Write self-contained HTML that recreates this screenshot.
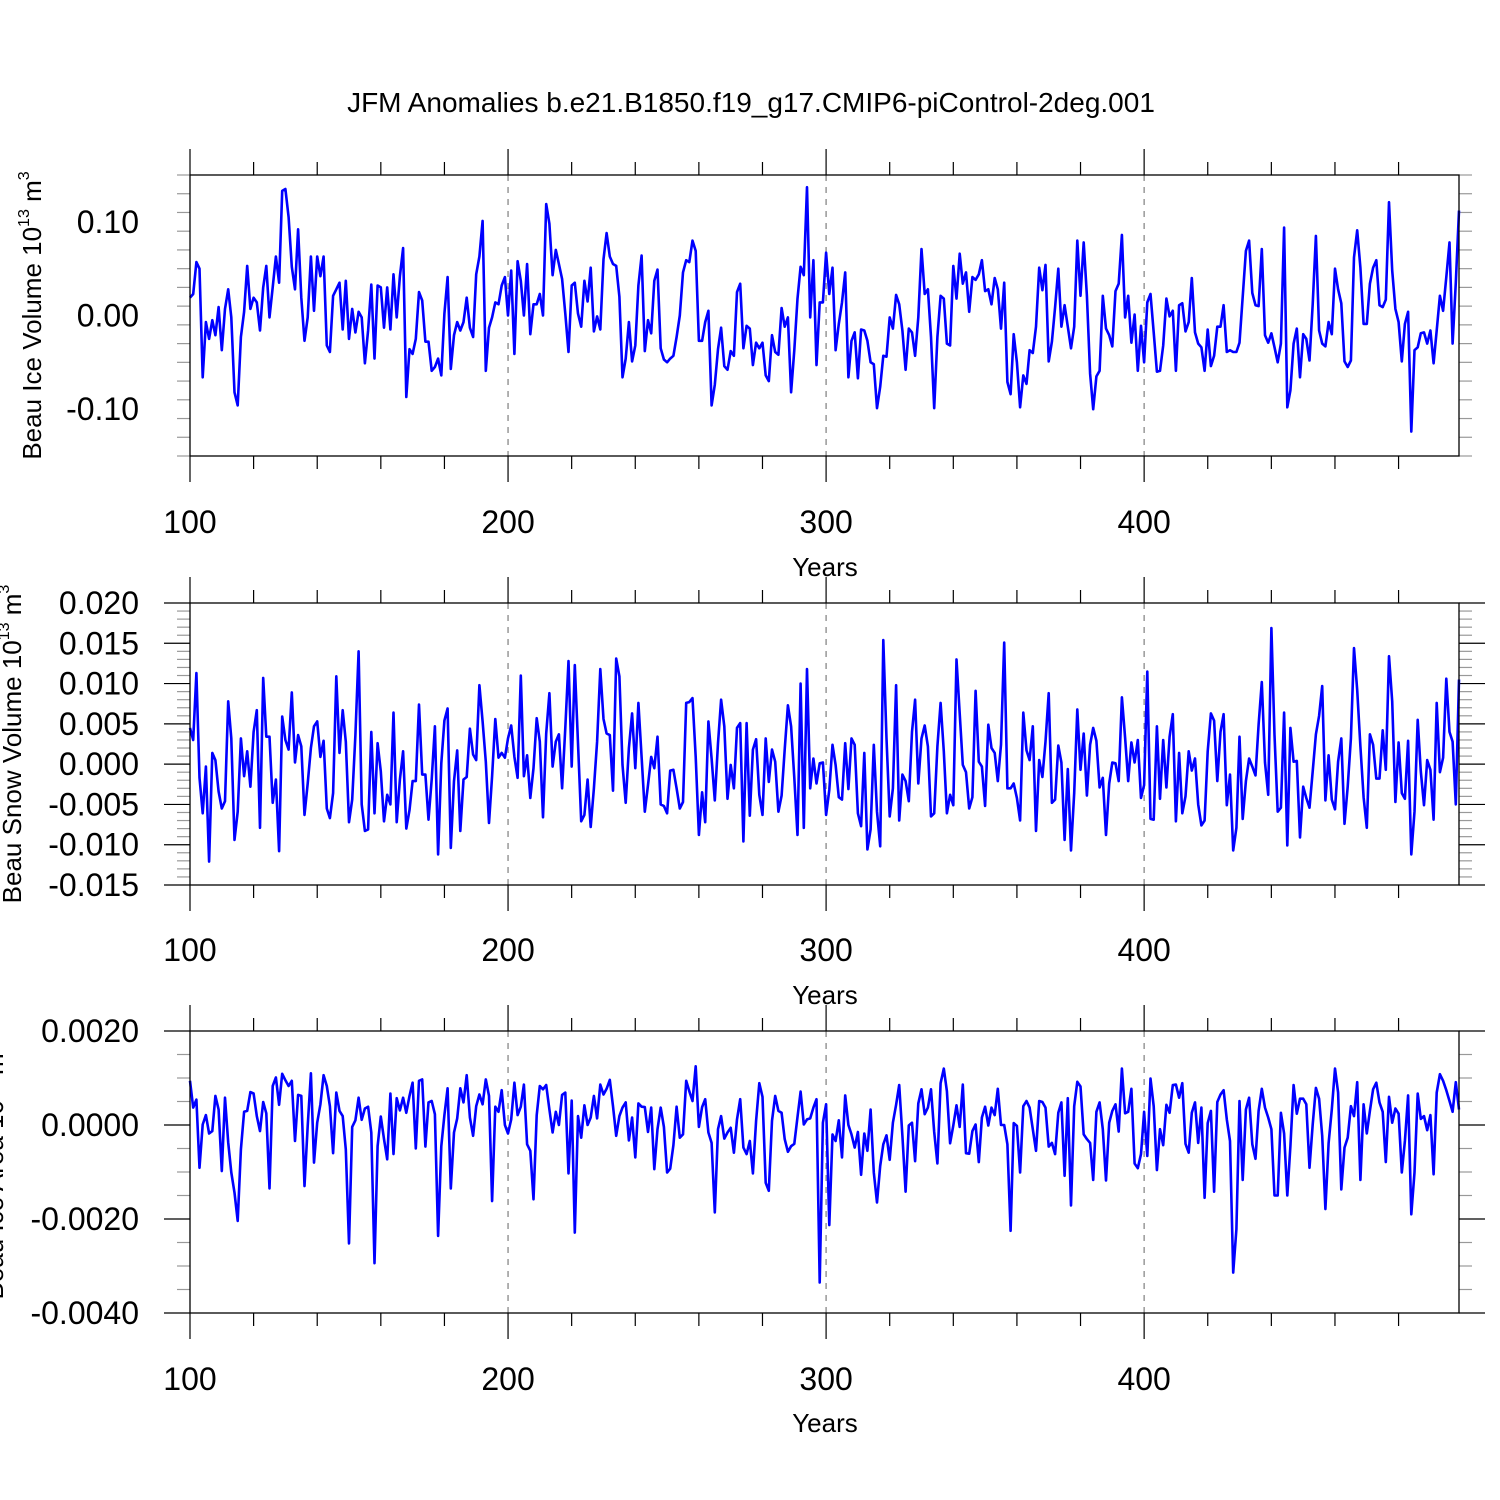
<!DOCTYPE html>
<html><head><meta charset="utf-8"><style>
html,body{margin:0;padding:0;background:#fff}
svg{display:block}
text{font-family:"Liberation Sans",Arial,sans-serif;fill:#000}
</style></head><body>
<svg id="chart" width="1500" height="1500" viewBox="0 0 1500 1500" xmlns="http://www.w3.org/2000/svg">
<text x="751" y="112" font-size="28" text-anchor="middle">JFM Anomalies b.e21.B1850.f19_g17.CMIP6-piControl-2deg.001</text>
</svg>
<script>
// x-axis data
const startYear = 100;
const xTickLabels = ["100","200","300","400"];
// Panel 1: Beau Ice Volume (units 0.001 x 10^13 m^3)
const iceVolume = [
19,23,57,50,-66,-7,-25,-5,-21,9,
-37,7,28,-2,-82,-96,-23,4,53,7,
19,14,-16,30,53,-2,30,63,35,133,
135,105,52,28,92,19,-27,-2,63,5,
63,42,63,-32,-39,21,28,35,-15,37,
-25,7,-18,4,-2,-51,-16,33,-46,32,
30,-13,30,-15,44,-2,42,72,-87,-36,
-41,-25,25,16,-28,-28,-59,-55,-46,-64,
2,41,-57,-21,-7,-16,-7,19,-13,-23,
44,63,101,-59,-13,-2,14,12,32,41,
0,48,-41,58,37,0,55,-20,12,12,
23,0,119,98,43,70,55,39,2,-39,
32,35,2,-12,37,15,51,-17,-1,-15,
60,88,63,55,53,20,-66,-46,-7,-49,
-32,32,64,-38,-5,-19,37,49,-35,-47,
-50,-46,-43,-23,0,46,59,57,80,69,
-27,-27,-7,5,-96,-74,-36,-13,-54,-58,
-38,-43,25,34,-35,-11,-14,-53,-29,-35,
-29,-64,-70,-21,-39,-42,8,-12,-2,-82,
-37,18,52,43,137,-2,59,-53,14,14,
67,23,51,-37,-9,14,46,-66,-27,-18,
-67,-15,-16,-27,-50,-52,-99,-76,-43,-44,
-2,-14,22,12,-16,-58,-14,-18,-43,-2,
71,23,28,-23,-99,-23,21,18,-30,-32,
53,18,66,34,46,4,41,38,44,59,
26,28,12,40,28,-14,35,-71,-84,-20,
-50,-98,-64,-73,-37,-40,-12,51,27,54,
-49,-28,9,50,-12,11,-12,-35,-12,80,
21,78,21,-62,-100,-65,-59,21,-14,-21,
-33,26,34,86,-2,21,-29,1,-59,-11,
-50,14,23,-18,-60,-59,-32,18,-1,5,
-59,11,13,-17,-7,40,-18,-30,-34,-59,
-15,-54,-43,-12,-12,11,-39,-37,-39,-39,
-29,20,69,80,24,11,10,71,-21,-29,
-19,-34,-50,-30,94,-98,-80,-30,-14,-66,
-20,-25,-48,12,85,-16,-30,-33,-7,-20,
50,28,13,-49,-55,-48,62,91,51,-9,
-9,34,51,59,11,9,17,121,48,7,
-7,-49,-9,4,-124,-37,-34,-19,-18,-30,
-16,-51,-16,21,5,41,78,-30,35,112];
const iceVolumeUnit = 0.001;
const iceVolumeTicks = ["-0.10","0.00","0.10"];
// Panel 2: Beau Snow Volume (units 0.0001)
const snowVolume = [
45,30,113,-17,-61,-3,-121,14,5,-34,
-55,-46,78,32,-94,-59,32,-15,16,-28,
40,67,-79,107,34,34,-48,-19,-108,59,
30,18,89,2,36,22,-63,-24,20,47,
53,9,29,-55,-67,-36,109,14,67,28,
-72,-44,36,140,-50,-83,-81,40,-61,26,
-9,-71,-38,-50,64,-72,-19,16,-80,-57,
-21,-21,74,-13,-13,-69,-19,47,-112,1,
54,69,-104,-21,17,-83,-19,-16,44,12,
5,98,53,3,-73,-15,56,8,14,8,
32,48,9,-17,110,-15,11,-42,-5,57,
28,-66,38,88,-3,28,37,-30,45,128,
-3,123,26,-71,-63,-19,-78,-30,28,118,
56,38,36,-33,131,109,-1,-48,20,63,
-5,76,9,-59,-26,9,-5,34,-50,-52,
-61,-8,-7,-30,-55,-47,76,77,82,9,
-88,-35,-72,53,7,-45,26,80,47,-43,
-1,-30,45,51,-96,51,-64,18,31,-38,
-63,32,-22,18,3,-59,-39,18,73,47,
-17,-88,100,-79,118,-30,7,-24,1,2,
-63,-32,24,-1,-41,-44,26,-31,32,24,
-61,-77,14,-106,-81,24,-59,-102,154,32,
-65,-30,98,-70,-13,-21,-46,40,80,-24,
32,48,22,-65,-61,22,76,16,-61,-38,
-51,130,63,-1,-10,-55,-41,91,3,-3,
-52,49,20,14,-21,24,151,-30,-30,-24,
-42,-70,64,17,5,47,-83,5,-16,28,
88,-48,-44,23,2,-94,-6,-107,-36,68,
-7,38,-39,24,45,29,-29,-17,-88,-24,
2,1,-21,83,33,-21,27,2,30,-42,
-26,115,-68,-69,47,-43,30,-29,34,62,
-71,14,-61,-40,16,-8,7,-50,-76,-70,
16,63,54,-21,40,62,-51,-13,-107,-79,
34,-68,-21,7,-3,-14,49,102,2,-38,
169,36,-59,-54,64,-101,45,3,4,-91,
-28,-42,-54,-9,37,60,97,-45,11,-44,
-56,3,32,-74,-28,32,144,92,22,-41,
-79,37,24,-18,-18,42,-7,134,78,-47,
27,-36,-43,29,-112,-59,55,-9,-51,5,
-7,-69,76,-10,8,106,40,28,-50,105];
const snowVolumeUnit = 0.0001;
const snowVolumeTicks = ["-0.015","-0.010","-0.005","0.000","0.005","0.010","0.015","0.020"];
// Panel 3: Beau Ice Area (units 0.00001)
const iceArea = [
94,37,54,-91,1,21,-18,-13,62,33,
-98,58,-37,-101,-144,-204,-52,28,30,70,
67,19,-13,49,25,-135,83,101,43,109,
95,83,94,-34,64,62,-130,-2,110,-80,
5,44,106,83,40,-60,69,30,19,-52,
-252,-4,10,58,11,35,39,-16,-294,-45,
18,-30,-73,67,-62,57,31,58,26,62,
90,-50,94,97,-46,48,51,23,-236,-45,
21,78,-135,-16,14,78,48,106,16,-23,
40,65,44,97,62,-162,39,28,74,0,
-18,12,90,21,39,86,-41,-55,-158,21,
83,76,85,33,-16,28,0,64,69,-103,
52,-229,19,-27,42,0,16,62,14,86,
65,77,96,40,-23,19,37,48,-33,16,
-69,46,39,38,-15,37,-94,-9,37,-4,
-101,-93,-43,39,-27,-20,94,72,51,125,
-4,38,55,-16,-38,-186,-9,19,-29,-16,
-6,-59,12,55,-48,-62,-34,-103,9,89,
60,-123,-140,9,62,30,26,-30,-57,-45,
-40,17,71,1,12,14,37,55,-335,5,
44,-213,-20,-34,10,-69,63,0,-20,-48,
-15,-106,-18,-55,33,-101,-165,-87,-41,-22,
-74,5,43,85,-23,-142,-1,5,-77,46,
76,23,37,76,-15,-82,89,120,72,-39,
-1,42,-4,86,-60,-61,-13,1,-79,16,
39,-1,37,21,77,0,0,-41,-225,4,
-2,-101,40,51,37,-9,-55,51,49,37,
-46,-38,-62,26,48,-108,57,-171,40,92,
82,-20,-30,-38,-117,28,48,-9,-118,5,
30,44,-14,120,25,28,77,-82,-92,-62,
28,-66,99,40,-96,-9,-43,43,26,85,
86,58,89,-40,-59,26,48,-38,37,-155,
4,30,-142,49,65,74,12,-34,-314,-222,
51,-117,33,58,-41,-72,30,77,37,16,
-9,-150,-150,26,-18,-150,-45,85,24,56,
56,44,-91,1,79,56,-23,-179,-39,33,
120,69,-137,-48,-27,40,19,91,-117,44,
-18,30,76,90,48,28,-79,60,5,35,
24,-101,-34,63,-190,-101,67,13,19,-11,
21,-105,69,108,94,74,51,28,91,33];
const iceAreaUnit = 0.00001;
const iceAreaTicks = ["-0.0040","-0.0020","0.0000","0.0020"];

const svg = document.getElementById('chart');
const NS = 'http://www.w3.org/2000/svg';
const X0 = 190, X1 = 1459, YEAR_END = 499;
function xScale(yr){ return X0 + (yr - startYear) * (X1 - X0) / (YEAR_END - startYear); }
function mk(tag, attrs){ const e = document.createElementNS(NS, tag); for (const k in attrs) e.setAttribute(k, attrs[k]); return e; }

const panels = [
  {key:'ice-volume', data:iceVolume, unit:iceVolumeUnit, ticks:iceVolumeTicks, top:175, bot:456, ymin:-0.15, ymax:0.15, major:0.1, minor:0.02, title:'Beau Ice Volume 10', sup:'13', tail:' m', sup2:'3', tx:32, lblY:522, yrsY:567},
  {key:'snow-volume', data:snowVolume, unit:snowVolumeUnit, ticks:snowVolumeTicks, top:603, bot:885, ymin:-0.015, ymax:0.020, major:0.005, minor:0.001, title:'Beau Snow Volume 10', sup:'13', tail:' m', sup2:'3', tx:12, lblY:950, yrsY:995},
  {key:'ice-area', data:iceArea, unit:iceAreaUnit, ticks:iceAreaTicks, top:1031, bot:1313, ymin:-0.004, ymax:0.002, major:0.002, minor:0.0005, title:'Beau Ice Area 10', sup:'13', tail:' m', sup2:'2', tx:-6, lblY:1379, yrsY:1423}
];

panels.forEach(p => {
  const g = mk('g', {});
  
  
  svg.appendChild(g);
  const yScale = v => p.bot - (v - p.ymin) / (p.ymax - p.ymin) * (p.bot - p.top);
  // grid lines
  [200,300,400].forEach(yr => {
    const l = mk('line', {x1:xScale(yr), x2:xScale(yr), y1:p.top, y2:p.bot, stroke:'#888', 'stroke-width':1.3, 'stroke-dasharray':'6,6'});
    
    
    g.appendChild(l);
  });
  // x ticks
  for (let yr = 100; yr <= 480; yr += 20) {
    const isMaj = yr % 100 === 0;
    const len = isMaj ? 26 : 13;
    const x = xScale(yr);
    const t1 = mk('line', {x1:x, x2:x, y1:p.top, y2:p.top - len, stroke:'#000', 'stroke-width':1.2});
    
    
    g.appendChild(t1);
    const t2 = mk('line', {x1:x, x2:x, y1:p.bot, y2:p.bot + len, stroke:'#000', 'stroke-width':1.2});
    
    
    g.appendChild(t2);
  }
  xTickLabels.forEach(lbl => {
    const t = mk('text', {x:xScale(+lbl), y:p.lblY + 11, 'font-size':32, 'text-anchor':'middle'});
    
    
    t.textContent = lbl;
    g.appendChild(t);
  });
  const yt = mk('text', {x:825, y:p.yrsY + 9, 'font-size':26, 'text-anchor':'middle'});
  
  
  yt.textContent = 'Years';
  g.appendChild(yt);
  // y ticks
  const nMin = Math.round((p.ymax - p.ymin) / p.minor);
  for (let i = 0; i <= nMin; i++) {
    const v = p.ymin + i * p.minor;
    const isMaj = Math.abs(v / p.major - Math.round(v / p.major)) < 1e-6;
    const len = isMaj ? 26 : 13;
    const y = yScale(v);
    const col = isMaj ? '#000' : '#999';
    const a = mk('line', {x1:X0, x2:X0 - len, y1:y, y2:y, stroke:col, 'stroke-width':1.2});
    
    
    g.appendChild(a);
    const b = mk('line', {x1:X1, x2:X1 + len, y1:y, y2:y, stroke:col, 'stroke-width':1.2});
    
    
    g.appendChild(b);
  }
  p.ticks.forEach(lbl => {
    const t = mk('text', {x:139, y:yScale(parseFloat(lbl)) + 11, 'font-size':32, 'text-anchor':'end'});
    
    
    t.textContent = lbl;
    g.appendChild(t);
  });
  // y title
  const cy = (p.top + p.bot) / 2;
  const tt = mk('text', {x:p.tx, y:cy, 'font-size':26, 'text-anchor':'middle', transform:'rotate(-90 ' + p.tx + ' ' + cy + ')', dy:9});
  
  
  tt.appendChild(document.createTextNode(p.title));
  const s1 = mk('tspan', {'font-size':16, dy:-12}); s1.textContent = p.sup; tt.appendChild(s1);
  const s2 = mk('tspan', {dy:12}); s2.textContent = p.tail; tt.appendChild(s2);
  const s3 = mk('tspan', {'font-size':16, dy:-12}); s3.textContent = p.sup2; tt.appendChild(s3);
  g.appendChild(tt);
  // series line
  const pts = p.data.map((v, i) => xScale(startYear + i).toFixed(1) + ',' + yScale(v * p.unit).toFixed(1)).join(' ');
  const pl = mk('polyline', {points:pts, fill:'none', stroke:'#0000ff', 'stroke-width':2.6, 'stroke-linejoin':'round'});
  
  
  g.appendChild(pl);
  // frame
  const fr = mk('rect', {x:X0, y:p.top, width:X1 - X0, height:p.bot - p.top, fill:'none', stroke:'#000', 'stroke-width':1.3});
  
  
  g.appendChild(fr);
});
</script>
</body></html>
